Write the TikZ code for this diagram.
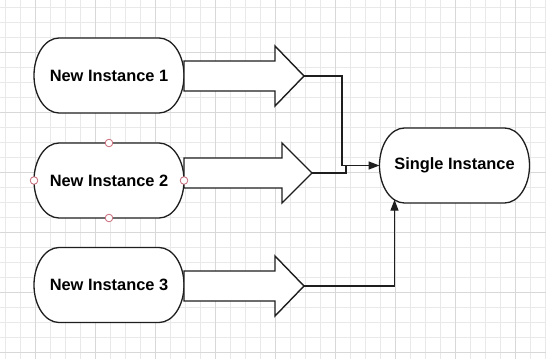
\documentclass[tikz,border=0pt]{standalone}
\usepackage{fontspec}
\setmainfont{Liberation Sans}
\usetikzlibrary{arrows.meta,calc}
\definecolor{gridminor}{HTML}{E9E9E9}
\definecolor{gridmajor}{HTML}{D8D8D8}
\definecolor{ink}{HTML}{1E1E1E}
\definecolor{handle}{HTML}{C86A78}
\tikzset{
  inst/.style={minimum width=150pt,minimum height=75pt,inner sep=0pt,outer sep=0pt,font=\fontsize{16.4}{19}\selectfont\bfseries},
  outline/.style={draw=ink,line width=1.3pt,fill=white},
  blockarrow/.style={draw=ink,line width=1.4pt,fill=white,line join=miter},
  conn/.style={draw=ink,line width=1.4pt},
  tip/.style={-{Triangle[length=11pt,width=8pt]}},
  hnd/.style={draw=handle,fill=white,line width=0.8pt}
}
\newcommand\stadiumof[1]{%
  \draw[outline] ([xshift=25pt]#1.north west) -- ([xshift=-25pt]#1.north east)
    arc[start angle=270,end angle=450,x radius=25,y radius=37.5]
    -- ([xshift=25pt]#1.south west)
    arc[start angle=90,end angle=270,x radius=25,y radius=37.5] -- cycle;}
\begin{document}
\begin{tikzpicture}[x=1pt,y=-1pt]
\useasboundingbox (0,0) rectangle (546,359);
\fill[white] (0,0) rectangle (546,359);
% grid
\foreach \i in {0,...,36} {\draw[gridminor,line width=0.9pt] ({5.3+15*\i},0) -- ({5.3+15*\i},359);}
\foreach \j in {0,...,23} {\draw[gridminor,line width=0.9pt] (0,{7.3+15*\j}) -- (546,{7.3+15*\j});}
\foreach \i in {0,...,8} {\draw[gridmajor,line width=0.9pt] ({35.3+60*\i},0) -- ({35.3+60*\i},359);}
\foreach \j in {0,...,5} {\draw[gridmajor,line width=0.9pt] (0,{52.3+60*\j}) -- (546,{52.3+60*\j});}

% nodes (shape drawn by \stadiumof, text by node)
\path node[inst] (n1) at (109,75.5) {};
\path node[inst] (n2) at (109,180.5) {};
\path node[inst] (n3) at (109,285) {};
\path node[inst] (si) at (454.5,165.5) {};
\stadiumof{n1}\stadiumof{n2}\stadiumof{n3}\stadiumof{si}
\node[inst] at (n1) {New Instance 1};
\node[inst] at (n2) {New Instance 2};
\node[inst] at (n3) {New Instance 3};
\node[inst] at (si) {Single Instance};

% block arrows
\draw[blockarrow] (184,61) -- (275,61) -- (275,46) -- (304,76) -- (275,106) -- (275,91) -- (184,91) -- cycle;
\draw[blockarrow] (184,158) -- (282,158) -- (282,143) -- (312,173) -- (282,203) -- (282,188) -- (184,188) -- cycle;
\draw[blockarrow] (184,271) -- (275,271) -- (275,256) -- (304,286) -- (275,316) -- (275,301) -- (184,301) -- cycle;
\coordinate (t1) at (304,76);
\coordinate (t2) at (312,173);
\coordinate (t3) at (304,286);

% connectors
\draw[conn] (t2) -| ($(si.west)+(-33.5,0)$);
\draw[conn,tip] (t1) -| ($(si.west)+(-37.5,0)$) -- (si.west);
\draw[conn,tip] (t3) -| ($(si.west)+(15,34.2)$);

% selection handles
\draw[hnd] (n2.north) circle[radius=3.8pt];
\draw[hnd] (n2.south) circle[radius=3.8pt];
\draw[hnd] (n2.west) circle[radius=3.8pt];
\draw[hnd] (n2.east) circle[radius=3.8pt];
\end{tikzpicture}
\end{document}
